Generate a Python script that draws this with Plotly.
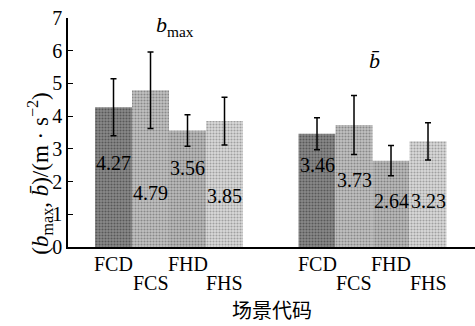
import plotly.graph_objects as go

scenarios = ["FCD", "FCS", "FHD", "FHS"]
b_max = [4.27, 4.79, 3.56, 3.85]
b_mean = [3.46, 3.73, 2.64, 3.23]
b_max_err = [0.87, 1.17, 0.48, 0.73]
b_mean_err = [0.49, 0.90, 0.46, 0.57]
label_y_max = [2.57, 1.65, 2.40, 1.55]
label_y_mean = [2.50, 2.05, 1.40, 1.40]

group1_pos = [1, 2, 3, 4]
group2_pos = [6.5, 7.5, 8.5, 9.5]

styles = [
    dict(bg="#8a8a8a", fg="#262626"),
    dict(bg="#c2c2c2", fg="#505050"),
    dict(bg="#bababa", fg="#474747"),
    dict(bg="#dadada", fg="#666666"),
]

serif = "Liberation Serif"
fig = go.Figure()
for i, s in enumerate(scenarios):
    fig.add_trace(go.Bar(
        x=[group1_pos[i], group2_pos[i]],
        y=[b_max[i], b_mean[i]],
        width=1.0,
        marker=dict(color=styles[i]["bg"], line=dict(width=0),
                    pattern=dict(shape=".", fgcolor=styles[i]["fg"], bgcolor=styles[i]["bg"],
                                 size=3, solidity=0.4)),
        error_y=dict(type="data", array=[b_max_err[i], b_mean_err[i]], color="black",
                     thickness=1.5, width=3),
        showlegend=False,
    ))

ann = []
for i, s in enumerate(scenarios):
    ann.append(dict(x=group1_pos[i], y=label_y_max[i], text=f"{b_max[i]:.2f}", showarrow=False,
                    font=dict(family=serif, size=20, color="black")))
    ann.append(dict(x=group2_pos[i], y=label_y_mean[i], text=f"{b_mean[i]:.2f}", showarrow=False,
                    font=dict(family=serif, size=20, color="black")))
    for pos in (group1_pos[i], group2_pos[i]):
        ann.append(dict(x=pos, xref="x", y=0, yref="paper", text=s, showarrow=False,
                        yanchor="middle", yshift=-17 if i % 2 == 0 else -36,
                        font=dict(family=serif, size=20, color="black")))

ann.append(dict(x=0.5, xref="paper", y=0, yref="paper", text="场景代码", showarrow=False,
                yanchor="bottom", yshift=-79,
                font=dict(family="Noto Sans CJK SC", size=20, color="black")))
ann.append(dict(x=-0.07, xref="paper", y=0.318, yref="paper",
                textangle=-90, xanchor="center", yanchor="middle",
                text="(<i>b</i><sub>max</sub>, <i>b̄</i>)/(m · s<sup>−2</sup>)",
                showarrow=False, font=dict(family=serif, size=23, color="black")))
ann.append(dict(x=2.65, y=6.75, text="<i>b</i><sub>max</sub>", showarrow=False,
                font=dict(family=serif, size=22, color="black")))
ann.append(dict(x=8.05, y=5.7, text="<i>b̄</i>", showarrow=False,
                font=dict(family=serif, size=22, color="black")))

fig.update_layout(
    width=475, height=326,
    margin=dict(l=68, r=0, t=18, b=79),
    plot_bgcolor="white", paper_bgcolor="white",
    barmode="overlay",
    annotations=ann,
    xaxis=dict(range=[-0.23, 10.77], showticklabels=False, ticks="", showline=True,
               linecolor="black", linewidth=1.5, showgrid=False, zeroline=False),
    yaxis=dict(range=[0, 7], dtick=1, ticks="inside", ticklen=5, tickcolor="black",
               showline=True, linecolor="black", linewidth=1.5, showgrid=False, zeroline=False,
               tickfont=dict(family=serif, size=20, color="black")),
)
fig.write_html("out.html")
